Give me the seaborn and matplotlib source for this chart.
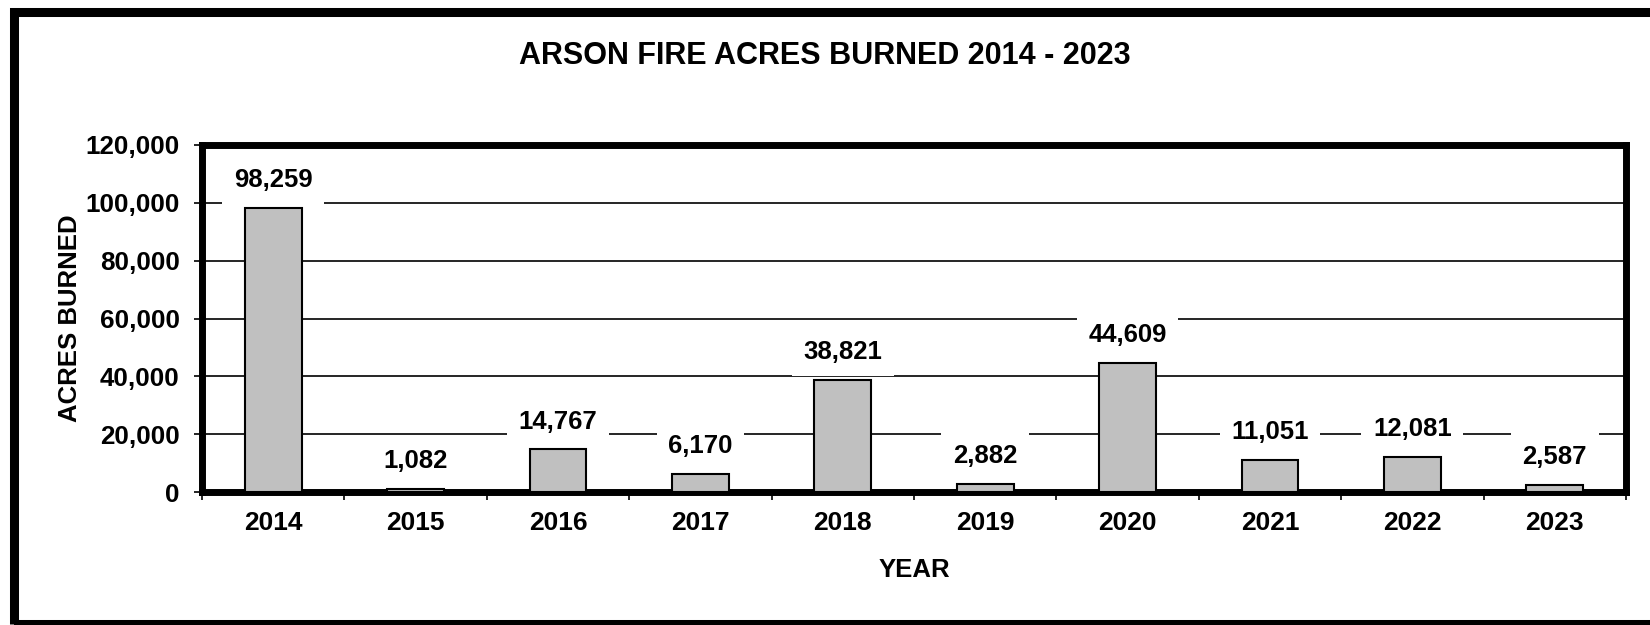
import matplotlib
matplotlib.use("Agg")
import matplotlib.pyplot as plt
import matplotlib.patches as mpatches
from matplotlib.ticker import FuncFormatter, FixedLocator
import seaborn as sns
import pandas as pd

years = ["2014", "2015", "2016", "2017", "2018", "2019", "2020", "2021", "2022", "2023"]
acres = [98259, 1082, 14767, 6170, 38821, 2882, 44609, 11051, 12081, 2587]
y_ticks = [0, 20000, 40000, 60000, 80000, 100000, 120000]

title = "ARSON FIRE ACRES BURNED 2014 - 2023"
x_label = "YEAR"
y_label = "ACRES BURNED"

sns.set_theme(style="white")
plt.rcParams["font.family"] = ["Liberation Sans", "DejaVu Sans"]

df = pd.DataFrame({"year": years, "acres": acres})

fig = plt.figure(figsize=(16.5, 6.25), dpi=100)
ax = fig.add_axes([202 / 1650, 1 - 492 / 625, (1626 - 202) / 1650, (492 - 145) / 625])

sns.barplot(data=df, x="year", y="acres", color="#c0c0c0", width=0.4,
            edgecolor="black", linewidth=1.5, saturation=1, ax=ax, zorder=3)

ax.set_xlim(-0.5, len(years) - 0.5)
ax.set_ylim(0, 120000)
ax.set_yticks(y_ticks)
ax.yaxis.set_major_formatter(FuncFormatter(lambda v, p: f"{int(v):,}"))
ax.yaxis.grid(True, color="black", linewidth=1.2, zorder=0)
ax.set_axisbelow(True)

for s in ax.spines.values():
    s.set_visible(True)
    s.set_color("black")
    s.set_linewidth(5)

# ticks
ax.tick_params(axis="y", which="major", direction="out", length=6, width=1.2,
               color="black", left=True, pad=10, labelsize=18.7, labelcolor="black")
ax.tick_params(axis="x", which="major", length=0, pad=14, labelsize=19, labelcolor="black")
ax.xaxis.set_minor_locator(FixedLocator([i - 0.5 for i in range(len(years) + 1)]))
ax.tick_params(axis="x", which="minor", direction="out", length=6, width=1.2,
               color="black", bottom=True)
for lbl in ax.get_xticklabels() + ax.get_yticklabels():
    lbl.set_fontweight("bold")

ax.set_xlabel(x_label, fontsize=18.5, fontweight="bold", labelpad=16, color="black")
ax.set_ylabel(y_label, fontsize=18.5, fontweight="bold", color="black")
ax.yaxis.set_label_coords(-120 / 1424, 0.5)

for i, v in enumerate(acres):
    ax.annotate(f"{v:,}", xy=(i, v), xytext=(0, 20), textcoords="offset points",
                ha="center", va="center", fontsize=18.5, fontweight="bold", color="black",
                bbox=dict(boxstyle="square,pad=0.45", facecolor="white", edgecolor="none"),
                zorder=5)

fig.text(0.5, 1 - 56 / 625, title, ha="center", va="center", fontsize=22,
         fontweight="bold", color="black")

frame = mpatches.Rectangle((14.5 / 1650, 1 - 623.5 / 625), 1.2, (623.5 - 11.5) / 625,
                           transform=fig.transFigure, fill=False, edgecolor="black",
                           linewidth=6.5, clip_on=False)
fig.patches.append(frame)

fig.savefig("out.png", dpi=100, facecolor="white")
